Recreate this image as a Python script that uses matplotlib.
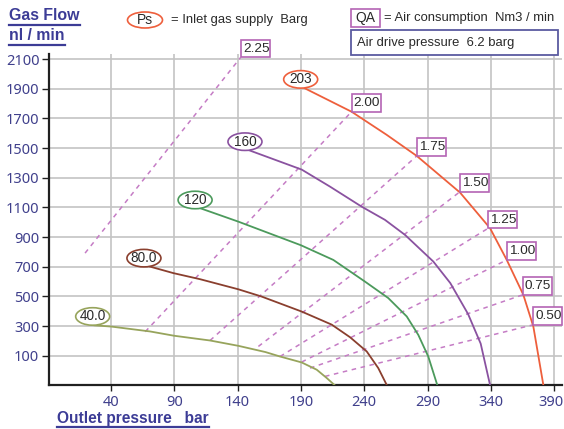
import matplotlib
matplotlib.use('Agg')
import matplotlib.pyplot as plt
from matplotlib import font_manager, transforms
from matplotlib.patches import Ellipse, Rectangle
from matplotlib.lines import Line2D

# ---------------- data ----------------
x_ticks = [40, 90, 140, 190, 240, 290, 340, 390]
y_ticks = [100, 300, 500, 700, 900, 1100, 1300, 1500, 1700, 1900, 2100]

ps_names = ['203', '160', '120', '80.0', '40.0']
ps203_x = [193, 230, 257.6, 281.5, 315.7, 339.4, 352.6, 365.7, 373.6, 381.5]
ps203_y = [1903, 1745, 1590, 1447, 1200, 960, 746, 511, 297, -97]
ps160_x = [148.5, 190.6, 213, 238, 256.4, 272.2, 294.6, 308, 322, 332, 339.4]
ps160_y = [1487, 1355, 1240, 1105, 1016, 915, 735, 590, 382, 182, -97]
ps120_x = [110.3, 140.6, 190, 215.6, 240.6, 259, 273.6, 282.7, 290.6, 297.7]
ps120_y = [1095, 1004, 845, 746, 600, 489, 365, 241, 95, -97]
ps80_x = [70.8, 89.3, 110.4, 140.6, 159, 190.6, 214.3, 228.8, 242, 251.1, 257.8]
ps80_y = [701, 657, 616, 548, 499, 398, 310, 225, 129, 17, -97]
ps40_x = [27, 40, 70.8, 89.8, 118.2, 140.6, 162, 173.5, 190.6, 202.5, 210.4, 216.5]
ps40_y = [305, 297, 264, 235, 203, 167, 125, 95, 55, 6, -50, -97]
ps_label_x = [189.8, 145.8, 106.4, 66.0, 25.5]
ps_label_y = [1963, 1543, 1150, 758, 365]

qa_names = ['2.25', '2.00', '1.75', '1.50', '1.25', '1.00', '0.75', '0.50']
qa_x0 = [19.5, 67, 118.2, 156.4, 173.5, 190.6, 197.2, 209]
qa_y0 = [792, 262, 203, 163, 95, 58, 17, -39]
qa_x1 = [142.4, 230, 281.5, 315.7, 338, 352.6, 365.2, 373.6]
qa_y1 = [2111, 1745, 1447, 1206, 960, 746, 511, 309]

# ---------------- style ----------------
ps_colors = ['#ee5f3c', '#8a52a0', '#4c9a5c', '#8a3f2e', '#97a45c']
qa_color = '#c57cc5'
qa_edge = '#b464b4'
blue = '#3c3c96'
tick_color = '#40408c'
grid_color = '#c4c4c4'

NARROW = any(f.name == 'Liberation Sans Narrow' for f in font_manager.fontManager.ttflist)
FAM = ['Liberation Sans Narrow', 'Liberation Sans'] if NARROW else ['Liberation Sans']


def fs(n, r):
    return n if NARROW else r


W, H, DPI = 564, 429, 100
fig = plt.figure(figsize=(W / DPI, H / DPI), dpi=DPI)
fig.patch.set_facecolor('white')


def fx(px):
    return px / W


def fy(py):
    return 1 - py / H


ax = fig.add_axes([fx(49), fy(385), (561.7 - 49) / W, (385 - 54) / H])
ax.set_xlim(-9, 396)
ax.set_ylim(-97, 2134)
ax.set_xticks(x_ticks)
ax.set_yticks(y_ticks)
ax.grid(True, color=grid_color, lw=1.2, zorder=0)
ax.set_axisbelow(True)
for s in ['top', 'right']:
    ax.spines[s].set_visible(False)
for s in ['left', 'bottom']:
    ax.spines[s].set_color('#202020')
    ax.spines[s].set_linewidth(1.6)
ax.tick_params(axis='both', colors='#202020', labelcolor=tick_color, length=4, width=1, labelsize=10.5)
ax.tick_params(axis='y', pad=2, length=5)
ax.tick_params(axis='x', pad=3)
for lab in ax.get_xticklabels() + ax.get_yticklabels():
    lab.set_family(['Noto Sans', 'DejaVu Sans'])
last = ax.get_xticklabels()[-1]
last.set_transform(last.get_transform() + transforms.ScaledTranslation(-0.035, 0, fig.dpi_scale_trans))

# QA dashed lines
for x0, y0, x1, y1 in zip(qa_x0, qa_y0, qa_x1, qa_y1):
    ax.plot([x0, x1], [y0, y1], color=qa_color, lw=1.1, ls=(0, (3, 3)), zorder=2, clip_on=False)

# Ps curves
curves = [(ps203_x, ps203_y), (ps160_x, ps160_y), (ps120_x, ps120_y), (ps80_x, ps80_y), (ps40_x, ps40_y)]
for (cx, cy), c in zip(curves, ps_colors):
    ax.plot(cx, cy, color=c, lw=1.3, zorder=3)


def pix_trans(x, y):
    return fig.dpi_scale_trans + transforms.ScaledTranslation(x, y, ax.transData)


# Ps ellipse labels
for name, lx, ly, c in zip(ps_names, ps_label_x, ps_label_y, ps_colors):
    e = Ellipse((0, 0), 34 / DPI, 17.5 / DPI, transform=pix_trans(lx, ly), fc='white', ec=c, lw=1.2,
                zorder=5, clip_on=False)
    ax.add_patch(e)
    ax.text(lx, ly, name, ha='center', va='center', fontsize=fs(11, 9.8), family=FAM, color='#2a2a2a',
            zorder=6, clip_on=False)

# QA boxes
for name, x1, y1 in zip(qa_names, qa_x1, qa_y1):
    r = Rectangle((0, 0), 29 / DPI, 17.5 / DPI, transform=pix_trans(x1, y1), fc='white', ec=qa_edge, lw=1.2,
                  zorder=5, clip_on=False)
    ax.add_patch(r)
    ax.annotate(name, (x1, y1), xytext=(2.2 * 0.72, 8.5 * 0.72), textcoords='offset points', ha='left',
                va='center', fontsize=fs(11, 9.7), family=FAM, color='#2a2a2a', zorder=6, annotation_clip=False)

# ---------------- header / legend ----------------
fig.add_artist(Ellipse((fx(145), fy(20)), 35 / W, 16 / H, transform=fig.transFigure, fc='white',
                       ec=ps_colors[0], lw=1.2))
fig.text(fx(145), fy(20.5), 'Ps', ha='center', va='center', fontsize=fs(11, 10), family=FAM, color='#2a2a2a')
fig.text(fx(171), fy(19.5), '= Inlet gas supply  Barg', ha='left', va='center', fontsize=fs(11, 9.4), family=FAM,
         color='#2a2a2a')
fig.add_artist(Rectangle((fx(351), fy(26.7)), 29 / W, 17.4 / H, transform=fig.transFigure, fc='white',
                         ec=qa_edge, lw=1.2))
fig.text(fx(365.5), fy(18), 'QA', ha='center', va='center', fontsize=fs(11, 10), family=FAM, color='#2a2a2a')
fig.text(fx(384), fy(18), '= Air consumption  Nm3 / min', ha='left', va='center', fontsize=fs(11, 9.4),
         family=FAM, color='#2a2a2a')
fig.add_artist(Rectangle((fx(351), fy(55)), 207 / W, 25 / H, transform=fig.transFigure, fc='white',
                         ec='#5a5aa0', lw=1.3))
fig.text(fx(357), fy(43), 'Air drive pressure  6.2 barg', ha='left', va='center', fontsize=fs(11, 9.4),
         family=FAM, color='#2a2a2a')

t1 = fig.text(fx(9), fy(16), 'Gas Flow', ha='left', va='center', fontsize=fs(13.4, 11.4), family=FAM,
              weight='bold', color=blue)
t2 = fig.text(fx(9), fy(36), 'nl / min', ha='left', va='center', fontsize=fs(13.4, 11.4), family=FAM,
              weight='bold', color=blue)
t3 = fig.text(fx(57), fy(419), 'Outlet pressure   bar', ha='left', va='center', fontsize=fs(13.4, 11.2),
              family=FAM, weight='bold', color=blue)

fig.canvas.draw()
renderer = fig.canvas.get_renderer()
for t, uy in [(t1, 24.5), (t2, 44.5), (t3, 427)]:
    bb = t.get_window_extent(renderer)
    fig.add_artist(Line2D([bb.x0 / W, bb.x1 / W], [fy(uy), fy(uy)], transform=fig.transFigure, color=blue,
                          lw=1.6))

fig.savefig('out.png', dpi=DPI, facecolor='white')
